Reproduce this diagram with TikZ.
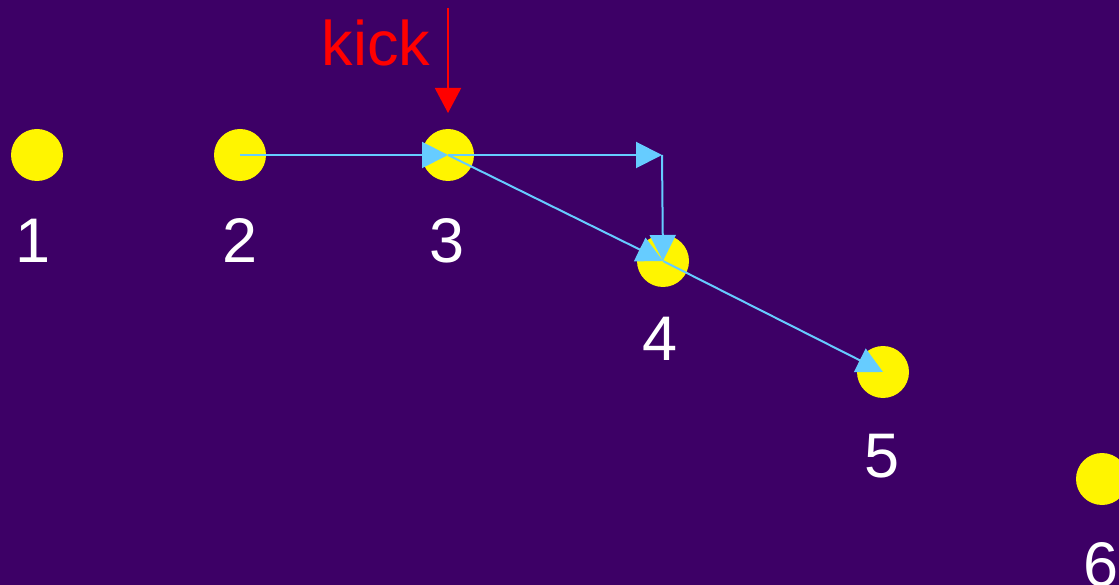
\documentclass[tikz,border=0pt]{standalone}
\usepackage{fontspec}
\setmainfont{Liberation Sans}
\usetikzlibrary{arrows.meta}
\definecolor{bg}{RGB}{61,0,102}
\definecolor{ball}{RGB}{255,245,0}
\definecolor{path}{RGB}{102,204,255}
\definecolor{kickred}{RGB}{255,0,0}
\tikzset{
  ball/.style={circle, fill=ball, minimum size=52pt, inner sep=0pt},
  num/.style={text=white, font=\fontsize{63}{63}\selectfont, anchor=base, inner sep=0pt},
  move/.style={draw=path, line width=2pt, -{Triangle[length=26pt,width=26pt]}},
  kick/.style={draw=kickred, line width=2pt, -{Triangle[length=25pt,width=26pt]}}
}
\begin{document}
\begin{tikzpicture}[x=1pt,y=-1pt]
  \fill[bg] (0,0) rectangle (1119,585);
  \useasboundingbox (0,0) rectangle (1119,585);

  % balls
  \node[ball] (c1) at (37,155) {};
  \node[ball] (c2) at (240,155) {};
  \node[ball] (c3) at (448,155) {};
  \node[ball] (c4) at (663,261) {};
  \node[ball] (c5) at (883,372) {};
  \node[ball] (c6) at (1102,479) {};

  % labels
  \node[num] (n1) at (33,263) {1};
  \node[num] (n2) at (240,263) {2};
  \node[num] (n3) at (447,263) {3};
  \node[num] (n4) at (660,360) {4};
  \node[num] (n5) at (882,477) {5};
  \node[num] (n6) at (1101,586) {6};

  % kick
  \node[text=kickred, font=\fontsize{63}{63}\selectfont, anchor=base, inner sep=0pt] (kicklabel) at (376,66) {kick};
  \coordinate (kicktop) at (448,8);
  \coordinate (kicktip) at (448,113);
  \draw[kick] (kicktop) -- (kicktip);

  % displacement arrows
  \coordinate (corner) at (662,155);
  \draw[move] (c2.center) -- (c3.center);
  \draw[move] (c3.center) -- (corner);
  \draw[move] (corner) -- (c4.center);
  \draw[move] (c3.center) -- (c4.center);
  \draw[move] (c4.center) -- (c5.center);
\end{tikzpicture}
\end{document}
